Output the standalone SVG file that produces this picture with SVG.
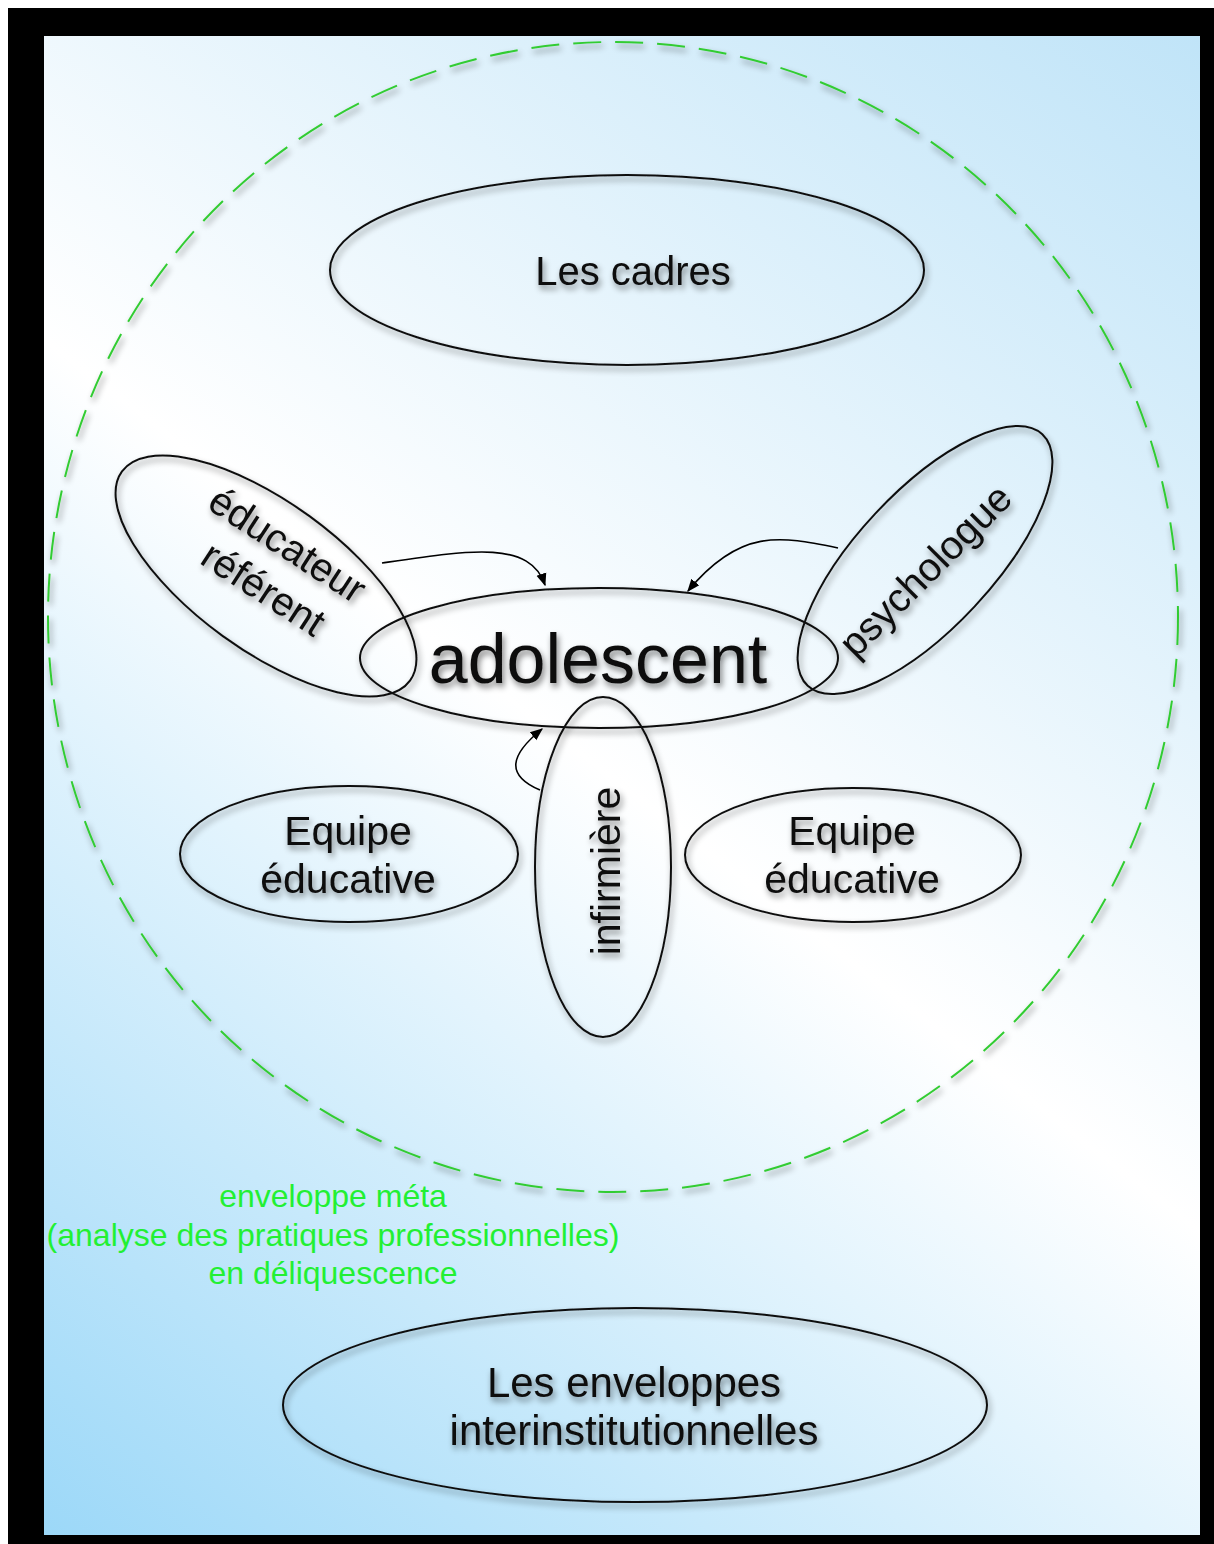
<svg xmlns="http://www.w3.org/2000/svg" width="1214" height="1544" viewBox="0 0 1214 1544">
<defs>
<linearGradient id="bg" gradientUnits="userSpaceOnUse" x1="44" y1="1535" x2="1200" y2="36">
<stop offset="0" stop-color="#9cd8f8"/>
<stop offset="0.5" stop-color="#ffffff"/>
<stop offset="1" stop-color="#c0e4f8"/>
</linearGradient>
<filter id="sh" x="-20%" y="-20%" width="140%" height="140%">
<feGaussianBlur in="SourceAlpha" stdDeviation="3"/>
<feOffset dx="2" dy="4" result="b"/>
<feComponentTransfer><feFuncA type="linear" slope="0.5"/></feComponentTransfer>
<feMerge><feMergeNode/><feMergeNode in="SourceGraphic"/></feMerge>
</filter>
<marker id="ah" viewBox="0 0 10 10" refX="9" refY="5" markerWidth="8" markerHeight="8" orient="auto">
<path d="M0,1 L10,5 L0,9 z" fill="#000"/>
</marker>
<style>
.n{fill:none;stroke:#111;stroke-width:2}
.t{font-family:"Liberation Sans",Arial,sans-serif;fill:#111;text-anchor:middle}
.g{font-family:"Liberation Sans",Arial,sans-serif;fill:#22f033;text-anchor:middle;font-size:32px}
.c{fill:none;stroke:#000;stroke-width:1.6}
</style>
</defs>
<rect x="0" y="0" width="1214" height="1544" fill="#fff"/>
<rect x="8" y="8" width="1206" height="1536" fill="#000"/>
<rect x="44" y="36" width="1156" height="1499" fill="url(#bg)"/>

<g id="meta">
<ellipse cx="613" cy="617" rx="565" ry="575" fill="none" stroke="#33cc33" stroke-width="2" stroke-dasharray="28,14" filter="url(#sh)"/>
<text class="g" x="333" y="1207">enveloppe méta</text>
<text class="g" x="333" y="1246">(analyse des pratiques professionnelles)</text>
<text class="g" x="333" y="1284">en déliquescence</text>
</g>

<g id="cadres" filter="url(#sh)">
<ellipse class="n" cx="627" cy="270" rx="297" ry="95"/>
<text class="t" x="633" y="285" font-size="40">Les cadres</text>
</g>

<g id="educateur" filter="url(#sh)">
<ellipse class="n" cx="266" cy="576" rx="178" ry="74" transform="rotate(36 266 576)"/>
<text class="t" font-size="40" transform="translate(280 556) rotate(33)">éducateur</text>
<text class="t" font-size="40" transform="translate(256 600) rotate(33)">référent</text>
</g>

<g id="psychologue" filter="url(#sh)">
<ellipse class="n" cx="925" cy="560" rx="172" ry="68" transform="rotate(-47 925 560)"/>
<text class="t" font-size="40" transform="translate(935 580) rotate(-45)">psychologue</text>
</g>

<g id="adolescent" filter="url(#sh)">
<ellipse class="n" cx="599" cy="658" rx="239" ry="70"/>
<text class="t" x="598" y="683" font-size="70">adolescent</text>
</g>

<g id="infirmiere" filter="url(#sh)">
<ellipse class="n" cx="603" cy="867" rx="68" ry="170"/>
<text class="t" font-size="41" transform="translate(620 871) rotate(-90)">infirmière</text>
</g>

<g id="equipe1" filter="url(#sh)">
<ellipse class="n" cx="349" cy="854" rx="169" ry="68"/>
<text class="t" x="348" y="845" font-size="41">Equipe</text>
<text class="t" x="348" y="893" font-size="41">éducative</text>
</g>

<g id="equipe2" filter="url(#sh)">
<ellipse class="n" cx="853" cy="855" rx="168" ry="67"/>
<text class="t" x="852" y="845" font-size="41">Equipe</text>
<text class="t" x="852" y="893" font-size="41">éducative</text>
</g>

<g id="enveloppes" filter="url(#sh)">
<ellipse class="n" cx="635" cy="1405" rx="352" ry="97"/>
<text class="t" x="634" y="1397" font-size="42">Les enveloppes</text>
<text class="t" x="634" y="1445" font-size="42">interinstitutionnelles</text>
</g>

<g id="connectors">
<path class="c" d="M382,563 C470,550 530,540 545,585" marker-end="url(#ah)"/>
<path class="c" d="M838,548 C780,536 740,528 688,591" marker-end="url(#ah)"/>
<path class="c" d="M540,790 C505,775 510,755 542,729" marker-end="url(#ah)"/>
</g>
</svg>
